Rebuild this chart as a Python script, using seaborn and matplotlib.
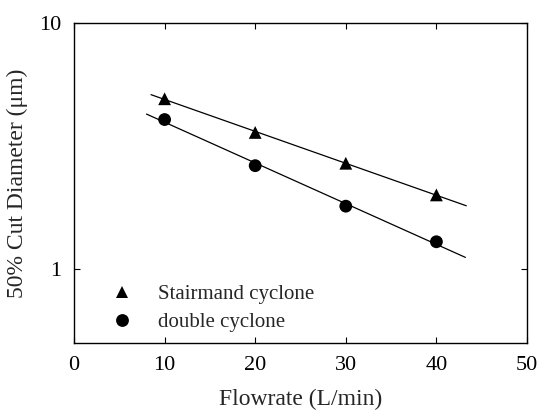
import numpy as np
import pandas as pd
import matplotlib
matplotlib.use("Agg")
import matplotlib.pyplot as plt
import seaborn as sns
from matplotlib.ticker import FixedLocator, NullLocator, FixedFormatter

# ---- data ----
flowrate = [10, 20, 30, 40]
stairmand = [4.92, 3.59, 2.69, 2.00]
double = [4.05, 2.63, 1.80, 1.29]
series_names = ["Stairmand cyclone", "double cyclone"]
fit_range_stairmand = [8.5, 43.3]
fit_range_double = [8.0, 43.2]
x_ticks = [0, 10, 20, 30, 40, 50]
y_ticks = [1, 10]
y_tick_labels = ["1", "10"]

sns.set_theme(style="ticks")
plt.rcParams['font.family'] = ['Liberation Serif', 'DejaVu Serif']

df = pd.DataFrame({
    "Flowrate": flowrate * 2,
    "d50": stairmand + double,
    "series": [series_names[0]] * 4 + [series_names[1]] * 4,
})

fig = plt.figure(figsize=(5.39, 4.12), dpi=100)
ax = fig.add_axes([74/539, 1 - 343/412, (527-74)/539, (343-23)/412])

# fitted exponential trend lines (linear fit of log10(d50) vs flowrate)
for vals, rng in [(stairmand, fit_range_stairmand), (double, fit_range_double)]:
    coef = np.polyfit(flowrate, np.log10(vals), 1)
    xs = np.array(rng)
    fit_df = pd.DataFrame({"x": xs, "y": 10 ** np.polyval(coef, xs)})
    sns.lineplot(data=fit_df, x="x", y="y", color="black", linewidth=0.9, ax=ax)

sns.scatterplot(data=df, x="Flowrate", y="d50", style="series",
                markers={series_names[0]: "^", series_names[1]: "o"},
                color="black", s=85, edgecolor="black", linewidth=0, ax=ax,
                legend=True)

ax.set_yscale("log")
ax.set_xlim(0, 50)
ax.set_ylim(0.5, 10)
ax.yaxis.set_major_locator(FixedLocator(y_ticks))
ax.yaxis.set_major_formatter(FixedFormatter(y_tick_labels))
ax.yaxis.set_minor_locator(NullLocator())
ax.set_xticks(x_ticks)
ax.set_xticklabels([str(v) for v in x_ticks])
ax.tick_params(axis="both", which="major", direction="in", top=True, right=True,
               length=4, width=0.8, labelsize=16, pad=9, colors="black")
for sp in ax.spines.values():
    sp.set_linewidth(1.0)
    sp.set_color("black")

ax.set_xlabel("Flowrate (L/min)", fontsize=17, labelpad=10)
ax.set_ylabel("50% Cut Diameter (\u03bcm)", fontsize=17, labelpad=8)

leg = ax.legend(loc="lower left", bbox_to_anchor=(0.019, -0.025), frameon=False,
                fontsize=15, handletextpad=0.73, labelspacing=0.4,
                markerscale=1.0, title=None)

fig.savefig("out.png", dpi=100)
